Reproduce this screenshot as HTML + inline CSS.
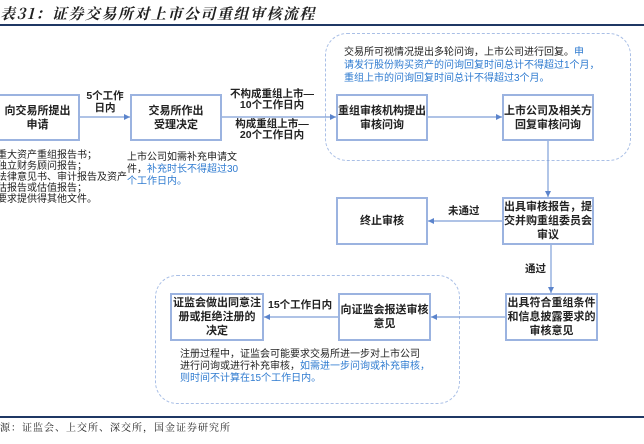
<!DOCTYPE html>
<html><head><meta charset="utf-8"><style>
body{margin:0;width:644px;height:444px;background:#fff;position:relative;overflow:hidden;font-family:"Liberation Sans","Noto Sans CJK SC",sans-serif;color:#222}
.b{position:absolute;border:2px solid #9bb3e0;box-sizing:border-box;display:flex;align-items:center;justify-content:center;text-align:center;font-size:11px;font-weight:bold;line-height:14px;background:#fff}
.t{position:absolute;font-size:10px;line-height:12px;white-space:nowrap}
.l{position:absolute;font-size:10.5px;font-weight:bold;line-height:12px;text-align:center;white-space:nowrap}
.bl{color:#2f7bd0}
.d{position:absolute;border:1.5px dashed #a9bfe6;border-radius:22px;box-sizing:border-box}
</style></head><body>
<div style="position:absolute;left:0;top:3px;font-family:'Noto Serif CJK SC',serif;font-style:italic;font-weight:bold;font-size:15px;letter-spacing:1.5px;color:#222">表31：证券交易所对上市公司重组审核流程</div>
<div style="position:absolute;left:0;top:24px;width:644px;height:2px;background:#1f3864"></div>
<div class="d" style="left:325px;top:33px;width:306px;height:128px"></div>
<div class="d" style="left:155px;top:275px;width:305px;height:129px"></div>
<svg style="position:absolute;left:0;top:0" width="644" height="444">
<defs><marker id="a" markerWidth="6" markerHeight="6" refX="5" refY="3" orient="auto"><path d="M0,0.5 L5,3 L0,5.5z" fill="#5b84cc"/></marker></defs>
<g stroke="#7f9fd8" stroke-width="1.2" fill="none" marker-end="url(#a)">
<line x1="80" y1="117" x2="130" y2="117"/>
<line x1="222" y1="117" x2="336" y2="117"/>
<line x1="428" y1="117" x2="502" y2="117"/>
<line x1="548" y1="140" x2="548" y2="197"/>
<line x1="502" y1="221" x2="428" y2="221"/>
<line x1="551" y1="245" x2="551" y2="293"/>
<line x1="505" y1="317" x2="431" y2="317"/>
<line x1="338" y1="317" x2="264" y2="317"/>
</g></svg>
<div class="b" style="left:-5px;top:94px;width:85px;height:47px">向交易所提出<br>申请</div>
<div class="b" style="left:130px;top:94px;width:92px;height:47px">交易所作出<br>受理决定</div>
<div class="b" style="left:336px;top:94px;width:92px;height:47px">重组审核机构提出<br>审核问询</div>
<div class="b" style="left:502px;top:94px;width:92px;height:47px">上市公司及相关方<br>回复审核问询</div>
<div class="b" style="left:336px;top:197px;width:92px;height:48px">终止审核</div>
<div class="b" style="left:502px;top:197px;width:92px;height:48px">出具审核报告，提<br>交并购重组委员会<br>审议</div>
<div class="b" style="left:505px;top:293px;width:93px;height:48px">出具符合重组条件<br>和信息披露要求的<br>审核意见</div>
<div class="b" style="left:338px;top:293px;width:93px;height:48px">向证监会报送审核<br>意见</div>
<div class="b" style="left:170px;top:293px;width:94px;height:48px">证监会做出同意注<br>册或拒绝注册的<br>决定</div>
<div class="l" style="left:85px;top:90px;width:40px">5个工作<br>日内</div>
<div class="l" style="left:230px;top:89px;width:84px;line-height:11px">不构成重组上市—<br>10个工作日内</div>
<div class="l" style="left:230px;top:119px;width:84px;line-height:11px">构成重组上市—<br>20个工作日内</div>
<div class="l" style="left:448px;top:205px">未通过</div>
<div class="l" style="left:525px;top:263px">通过</div>
<div class="l" style="left:268px;top:299px">15个工作日内</div>
<div class="t" style="left:-3px;top:150px;line-height:11px">重大资产重组报告书；<br>独立财务顾问报告；<br>法律意见书、审计报告及资产<br>估报告或估值报告；<br>要求提供得其他文件。</div>
<div class="t" style="left:127px;top:152px">上市公司如需补充申请文<br>件，<span class="bl">补充时长不得超过30</span><br><span class="bl">个工作日内。</span></div>
<div class="t" style="left:344px;top:46px;line-height:13px">交易所可视情况提出多轮问询，上市公司进行回复。<span class="bl">申</span><br><span class="bl">请发行股份购买资产的问询回复时间总计不得超过1个月，</span><br><span class="bl">重组上市的问询回复时间总计不得超过3个月。</span></div>
<div class="t" style="left:180px;top:349px">注册过程中，证监会可能要求交易所进一步对上市公司<br>进行问询或进行补充审核，<span class="bl">如需进一步问询或补充审核，</span><br><span class="bl">则时间不计算在15个工作日内。</span></div>
<div style="position:absolute;left:0;top:416px;width:644px;height:1.5px;background:#1f3864"></div>
<div class="t" style="left:0;top:421px;font-family:'Noto Serif CJK SC',serif;font-size:10px;letter-spacing:1px">源：证监会、上交所、深交所，国金证券研究所</div>
</body></html>
